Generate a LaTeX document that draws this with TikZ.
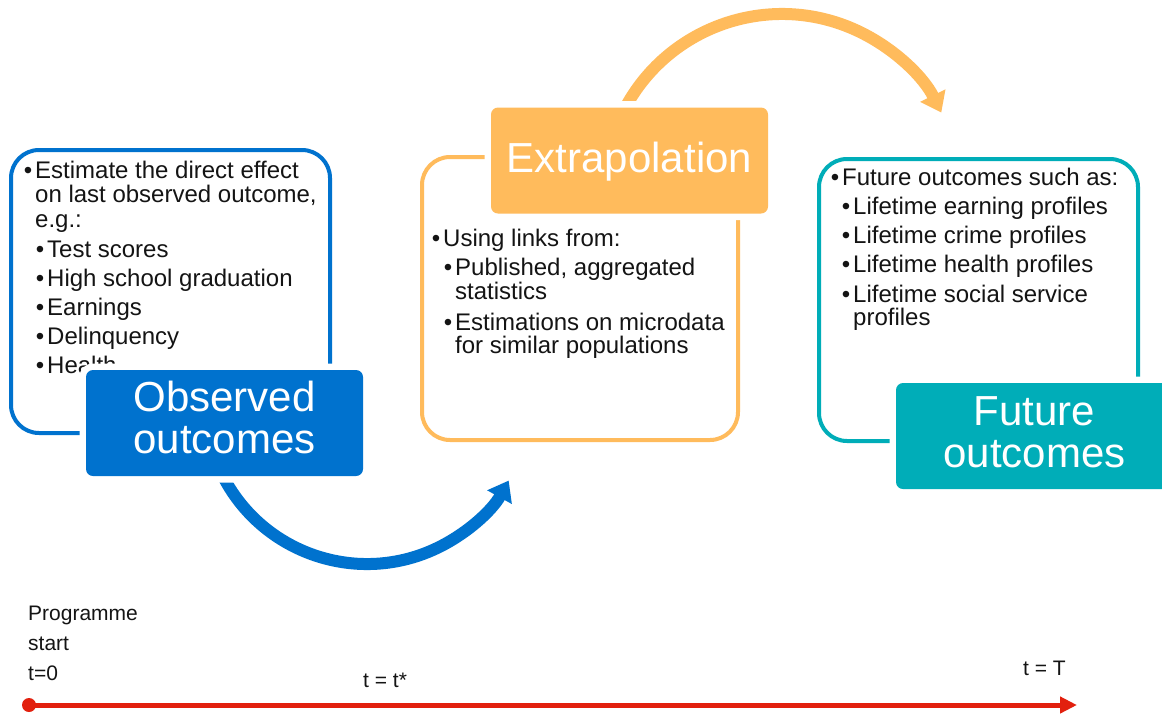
\documentclass[tikz,border=0pt]{standalone}
\usepackage{fontspec}
\setmainfont{Liberation Sans}
\usetikzlibrary{arrows.meta}
\definecolor{obsblue}{RGB}{0,114,206}
\definecolor{extorange}{RGB}{255,187,92}
\definecolor{futteal}{RGB}{0,173,184}
\definecolor{tlred}{RGB}{226,32,14}
\definecolor{bodytext}{RGB}{20,20,20}
\newcommand{\bul}{\llap{\textbullet\hspace{3pt}}}
\begin{document}
\begin{tikzpicture}[x=1pt,y=-1pt,
  frame/.style={line width=4pt, rounded corners=28pt},
  tag/.style={rounded corners=7pt, minimum width=277pt, minimum height=106pt,
    inner sep=0pt, text=white, font=\fontsize{42}{42}\selectfont, align=center,
    preaction={draw=white, line width=13pt}},
  body/.style={anchor=base west, inner sep=0pt, text=bodytext,
    font=\fontsize{24}{28}\selectfont},
  tl/.style={anchor=base west, inner sep=0pt, text=bodytext,
    font=\fontsize{21}{24}\selectfont},
  flow/.style={line width=12pt},
]
\clip (0,0) rectangle (1162,713);
\fill[white] (0,0) rectangle (1162,713);

% frames
\draw[frame, draw=obsblue] (11,150) rectangle (330,433);
\draw[frame, draw=extorange] (422,157) rectangle (738,440);
\draw[frame, draw=futteal] (819,159) rectangle (1138,441);

% blue body text
\node[body] (b1) at (35,178) {\bul Estimate the direct effect};
\node[body] (b1b) at (35,202) {on last observed outcome,};
\node[body] (b1c) at (35,227) {e.g.:};
\node[body] (b2) at (47,257) {\bul Test scores};
\node[body] (b3) at (47,286) {\bul High school graduation};
\node[body] (b4) at (47,315) {\bul Earnings};
\node[body] (b5) at (47,344) {\bul Delinquency};
\node[body] (b6) at (47,373) {\bul Health};

% orange body text
\node[body] (o1) at (443,246) {\bul Using links from:};
\node[body] (o2) at (455,275) {\bul Published, aggregated};
\node[body] (o2b) at (455,299) {statistics};
\node[body] (o3) at (455,330) {\bul Estimations on microdata};
\node[body] (o3b) at (455,353) {for similar populations};

% teal body text
\node[body] (f1) at (842,185) {\bul Future outcomes such as:};
\node[body] (f2) at (853,214) {\bul Lifetime earning profiles};
\node[body] (f3) at (853,243) {\bul Lifetime crime profiles};
\node[body] (f4) at (853,272) {\bul Lifetime health profiles};
\node[body] (f5) at (853,302) {\bul Lifetime social service};
\node[body] (f5b) at (853,325) {profiles};

% curved arrows
\coordinate (bc) at (367,402);
\coordinate (oc) at (782,192);
\draw[flow, draw=obsblue, -{Triangle[length=19pt,width=27pt]}]
  ([shift={(155:162)}]bc) arc[start angle=155, end angle=29, radius=162];
\draw[flow, draw=extorange, -{Triangle[length=19pt,width=27pt]}]
  ([shift={(205:178)}]oc) arc[start angle=205, end angle=333.5, radius=178];

% labels
\node[tag, fill=obsblue, text depth=11pt] (obs) at (224.5,423) {Observed\\outcomes};
\node[tag, fill=extorange, text height=31pt, text depth=7pt] (ext) at (629.5,160.5) {Extrapolation};
\node[tag, fill=futteal, text depth=7pt] (fut) at (1034.5,436) {Future\\outcomes};

% timeline
\node[circle, fill=tlred, minimum size=14pt, inner sep=0pt] (t0) at (29,705) {};
\coordinate (tend) at (1077,705);
\draw[tlred, line width=5pt, -{Triangle[length=17pt,width=16pt]}] (t0.center) -- (tend);
\node[tl] (p1) at (28,620) {Programme};
\node[tl] (p2) at (28,650) {start};
\node[tl] (p3) at (28,680) {t=0};
\node[tl] (tstar) at (363,687) {t = t*};
\node[tl] (tT) at (1023,675) {t = T};
\end{tikzpicture}
\end{document}
